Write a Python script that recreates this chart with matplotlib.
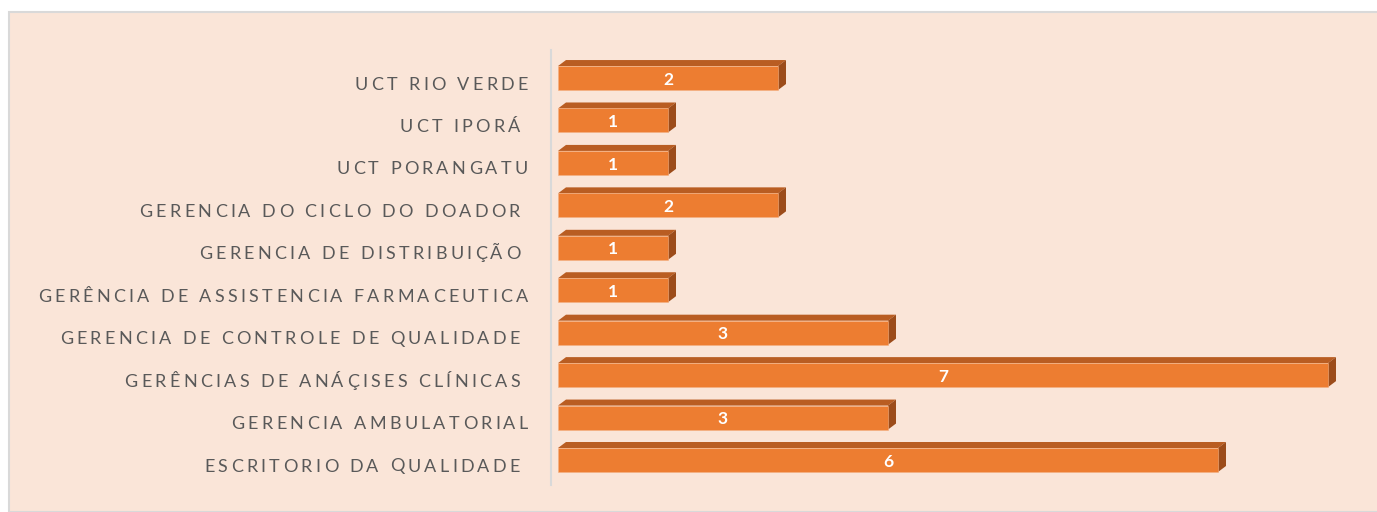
import matplotlib.pyplot as plt
from matplotlib.font_manager import FontProperties
from matplotlib.patches import Polygon, Rectangle
from matplotlib.textpath import text_to_path
from matplotlib.transforms import ScaledTranslation

plt.rcParams["font.family"] = ["Lato", "DejaVu Sans"]

# categories from bottom to top
categories = [
    "ESCRITORIO DA QUALIDADE ",
    "GERENCIA AMBULATORIAL",
    "GERÊNCIAS DE ANÁÇISES CLÍNICAS ",
    "GERENCIA DE CONTROLE DE QUALIDADE ",
    "GERÊNCIA DE ASSISTENCIA FARMACEUTICA",
    "GERENCIA DE DISTRIBUIÇÃO ",
    "GERENCIA DO CICLO DO DOADOR ",
    "UCT PORANGATU",
    "UCT IPORÁ ",
    "UCT RIO VERDE",
]
values = [6, 3, 7, 3, 1, 1, 2, 1, 1, 2]

FRONT = "#ED7D31"
TOP = "#B95D22"
SIDE = "#9C4C1A"
BG = "#FAE5D8"
TXT = "#595959"

DPI = 100
W, H = 1377, 512
fig = plt.figure(figsize=(W / DPI, H / DPI), dpi=DPI)
fig.patch.set_facecolor("white")
# chart area frame
fig.patches.append(Rectangle((9 / W, 0), 1.0, 1 - 12 / H, transform=fig.transFigure,
                             facecolor=BG, edgecolor="#D9D9D9", linewidth=1.5,
                             zorder=-5))

ax = fig.add_axes([551 / W, 27 / H, 800 / W, 435 / H])
ax.set_facecolor("none")
ax.set_zorder(2)

px_x = 110.0          # pixels per unit on x
px_y = 42.44          # pixels per category
ax.set_xlim(-7 / px_x, 793 / px_x)
ax.set_ylim(-25 / px_y, 410 / px_y)

bar_h = 24 / px_y
dx = 8 / px_x
dy = 6 / px_y

for i, v in enumerate(values):
    y0, y1 = i - bar_h / 2, i + bar_h / 2
    ax.barh(i, v, height=bar_h, left=0, color=FRONT, edgecolor="#F4B183",
            linewidth=0.4, zorder=3)
    ax.add_patch(Polygon([(0, y1), (v, y1), (v + dx, y1 + dy), (dx, y1 + dy)],
                         closed=True, facecolor=TOP, edgecolor="none", zorder=2))
    ax.add_patch(Polygon([(v, y0), (v, y1), (v + dx, y1 + dy), (v + dx, y0 + dy)],
                         closed=True, facecolor=SIDE, edgecolor="none", zorder=2))
    ax.text(v / 2, i - 0.04, str(v), ha="center", va="center", color="white",
            fontsize=12.5, fontweight="bold", zorder=4)

# category labels with letter tracking, drawn one glyph at a time
LABEL_SIZE = 13
LABEL_RIGHT = -23      # px left of the axis
LABEL_DROP = -5        # px below the bar centre
LONGEST_PX = 490       # tracked width of the longest label
prop = FontProperties(family="Lato", size=LABEL_SIZE)


def glyph_px(ch):
    w, _, _ = text_to_path.get_text_width_height_descent(ch, prop, ismath=False)
    return w * DPI / 72


longest = max(categories, key=len)
track = (LONGEST_PX - sum(glyph_px(c) for c in longest)) / (len(longest) - 1)

ytrans = ax.get_yaxis_transform()
for i, label in enumerate(categories):
    widths = [glyph_px(c) for c in label]
    total = sum(widths) + track * (len(label) - 1)
    x = LABEL_RIGHT - total
    for ch, w in zip(label, widths):
        if ch != " ":
            off = ScaledTranslation(x / DPI, LABEL_DROP / DPI, fig.dpi_scale_trans)
            ax.text(0, i, ch, transform=ytrans + off, ha="left", va="center_baseline",
                    fontproperties=prop, color=TXT, clip_on=False)
        x += w + track

ax.set_yticks([])
ax.set_xticks([])
for side in ["top", "right", "bottom"]:
    ax.spines[side].set_visible(False)
ax.spines["left"].set_color("#D9D9D9")
ax.spines["left"].set_linewidth(1.5)

fig.savefig("out.png", dpi=DPI, facecolor=fig.get_facecolor())
